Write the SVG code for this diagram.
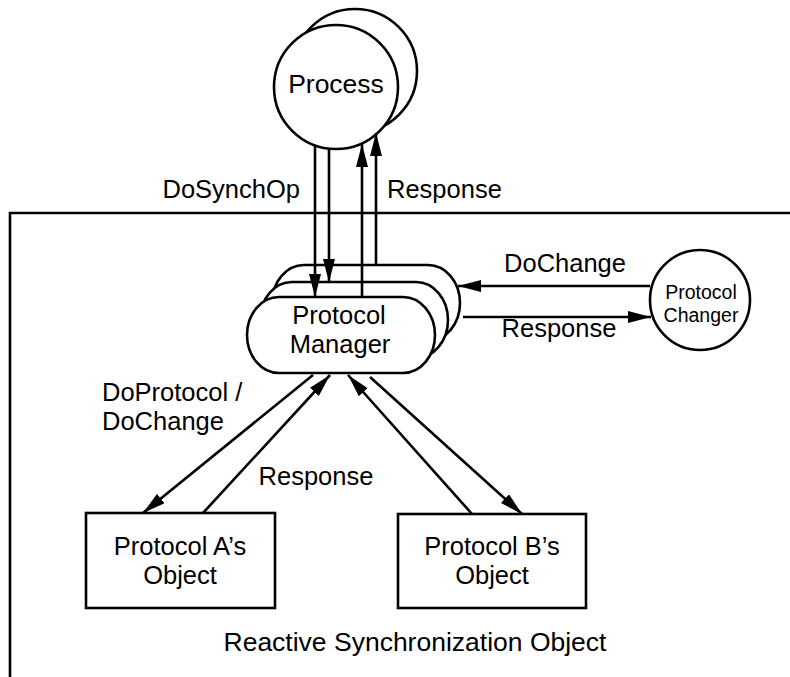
<svg xmlns="http://www.w3.org/2000/svg" width="790" height="677" viewBox="0 0 790 677">
<defs>
<style>
text{font-family:"Liberation Sans",Arial,Helvetica,sans-serif;font-size:25.5px;fill:#000}
.s{font-size:19.5px}
.shape{fill:#fff;stroke:#000;stroke-width:2.6}
.ln{fill:none;stroke:#000;stroke-width:2.6}
.c{text-anchor:middle}
</style>
<marker id="ah" markerUnits="userSpaceOnUse" markerWidth="23" markerHeight="12" refX="23" refY="6" orient="auto" viewBox="0 0 23 12">
<path d="M0,0 L23,6 L0,12 z" fill="#000"/>
</marker>
</defs>
<rect width="790" height="677" fill="#fff"/>
<g id="frame">
<path class="ln" d="M790,213 H10 V677"/>
<text x="415" y="651" class="c" style="font-size:26.5px">Reactive Synchronization Object</text>
</g>
<g id="process">
<circle class="shape" cx="355" cy="71" r="62"/>
<circle class="shape" cx="336" cy="87" r="62"/>
<text x="336" y="93" class="c" style="font-size:26.5px">Process</text>
</g>
<g id="protocol-manager">
<rect class="shape" x="272" y="265" width="188" height="76" rx="32" ry="38"/>
<rect class="shape" x="260" y="282" width="188" height="76" rx="32" ry="38"/>
<rect class="shape" x="247" y="297" width="188" height="76" rx="32" ry="38"/>
<text x="339" y="324" class="c">Protocol</text>
<text x="340" y="353" class="c">Manager</text>
</g>
<g id="protocol-changer">
<circle class="shape" cx="700" cy="300" r="50"/>
<text x="701" y="299" class="c s">Protocol</text>
<text x="701" y="322" class="c s">Changer</text>
</g>
<g id="protocol-a">
<rect class="shape" x="86" y="513" width="189" height="95"/>
<text x="180" y="555" class="c">Protocol A’s</text>
<text x="180" y="584" class="c">Object</text>
</g>
<g id="protocol-b">
<rect class="shape" x="398" y="514" width="188" height="94"/>
<text x="492" y="555" class="c">Protocol B’s</text>
<text x="492" y="584" class="c">Object</text>
</g>
<g id="connectors">
<line class="ln" x1="315" y1="146" x2="315" y2="297" marker-end="url(#ah)"/>
<line class="ln" x1="329" y1="149" x2="329" y2="282" marker-end="url(#ah)"/>
<line class="ln" x1="362" y1="297" x2="362" y2="144" marker-end="url(#ah)"/>
<line class="ln" x1="376" y1="265" x2="376" y2="133" marker-end="url(#ah)"/>
<line class="ln" x1="650" y1="286" x2="458" y2="286" marker-end="url(#ah)"/>
<line class="ln" x1="463" y1="317" x2="651" y2="317" marker-end="url(#ah)"/>
<line class="ln" x1="313" y1="375" x2="143" y2="513" marker-end="url(#ah)"/>
<line class="ln" x1="203" y1="513" x2="330" y2="375" marker-end="url(#ah)"/>
<line class="ln" x1="472" y1="514" x2="348" y2="375" marker-end="url(#ah)"/>
<line class="ln" x1="370" y1="377" x2="522" y2="514" marker-end="url(#ah)"/>
<text x="300" y="198" style="text-anchor:end">DoSynchOp</text>
<text x="387" y="198">Response</text>
<text x="565" y="272" class="c">DoChange</text>
<text x="559" y="337" class="c">Response</text>
<text x="102" y="401">DoProtocol /</text>
<text x="102" y="430">DoChange</text>
<text x="316" y="485" class="c">Response</text>
</g>
</svg>
